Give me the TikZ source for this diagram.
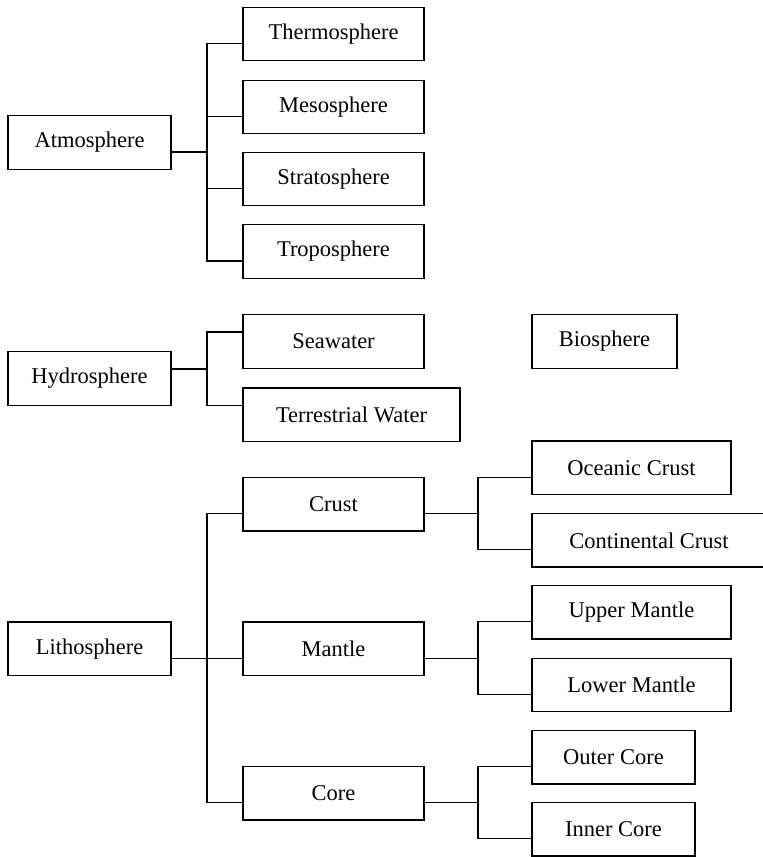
\documentclass[tikz,border=0pt]{standalone}
\usepackage{fontspec}
\setmainfont{Liberation Serif}
\usepackage{tikz}

\begin{document}
\begin{tikzpicture}[x=0.5pt,y=-0.5pt, line width=0.6pt,
    box/.style={draw, inner sep=0pt, minimum height=26.75pt,
        font=\fontsize{11.25}{13}\selectfont},
    w163/.style={box, minimum width=81.5pt},
    w181/.style={box, minimum width=90.5pt},
    w199/.style={box, minimum width=99.5pt}]
    \useasboundingbox (0,0) rectangle (763,857);

    % atmosphere
    \node[w163](atm) at (89.5,142.5) {Atmosphere};
    \node[w181](thermo) at (333.5,34) {Thermosphere};
    \node[w181](meso) at (333.5,107) {Mesosphere};
    \node[w181](strato) at (333.5,179) {Stratosphere};
    \node[w181](tropo) at (333.5,251.5) {Troposphere};

    % hydrosphere
    \node[w163](hydro) at (89.5,378.5) {Hydrosphere};
    \node[w181](sea) at (333.5,341.5) {Seawater};
    \node[box, minimum width=108.5pt](terr) at (351.5,414.7) {Terrestrial Water};
    \node[box, minimum width=72.5pt](bio) at (604.5,341.5) {Biosphere};

    % lithosphere
    \node[w163](litho) at (89.5,648.8) {Lithosphere};
    \node[w181](crust) at (333.5,504.2) {Crust};
    \node[w181](mantle) at (333.5,648.8) {Mantle};
    \node[w181](core) at (333.5,793.3) {Core};
    \node[w199](ocean) at (631.5,467.7) {Oceanic Crust};
    \node[box, minimum width=117pt](conti) at (649,540.3) {Continental Crust};
    \node[w199](upper) at (631.5,612.3) {Upper Mantle};
    \node[w199](lower) at (631.5,685) {Lower Mantle};
    \node[w163](outer) at (613.5,757.2) {Outer Core};
    \node[w163](inner) at (613.5,829.3) {Inner Core};

    \coordinate(abus) at (207,152);
    \coordinate(hbus) at (207,369);
    \coordinate(lbus) at (207,658.3);
    \coordinate(cbus) at (478,513.7);
    \coordinate(mbus) at (478,658.3);
    \coordinate(kbus) at (478,802.8);

    \draw([yshift=-4.75pt]atm.east)--(abus);
    \draw(abus) |- ([yshift=-4.75pt]thermo.west);
    \draw(abus) |- ([yshift=-4.75pt]meso.west);
    \draw(abus) |- ([yshift=-4.75pt]strato.west);
    \draw(abus) |- ([yshift=-4.75pt]tropo.west);

    \draw([yshift=4.75pt]hydro.east)--(hbus);
    \draw(hbus) |- ([yshift=4.75pt]sea.west);
    \draw(hbus) |- ([yshift=4.75pt]terr.west);

    \draw([yshift=-4.75pt]litho.east)--([yshift=-4.75pt]mantle.west);
    \draw(lbus) |- ([yshift=-4.75pt]crust.west);
    \draw(lbus) |- ([yshift=-4.75pt]core.west);

    \draw([yshift=-4.75pt]crust.east)--(cbus);
    \draw(cbus) |- ([yshift=-4.75pt]ocean.west);
    \draw(cbus) |- ([yshift=-4.75pt]conti.west);
    \draw([yshift=-4.75pt]mantle.east)--(mbus);
    \draw(mbus) |- ([yshift=-4.75pt]upper.west);
    \draw(mbus) |- ([yshift=-4.75pt]lower.west);
    \draw([yshift=-4.75pt]core.east)--(kbus);
    \draw(kbus) |- ([yshift=-4.75pt]outer.west);
    \draw(kbus) |- ([yshift=-4.75pt]inner.west);
\end{tikzpicture}
\end{document}
